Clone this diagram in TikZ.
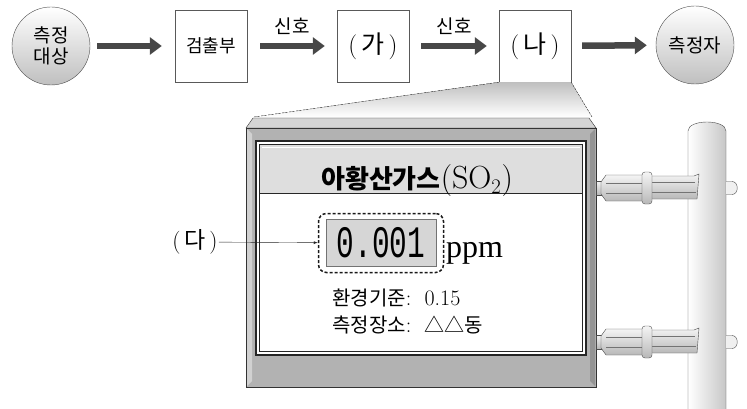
\documentclass[tikz,border=0pt]{standalone}
\usepackage{fontspec}
\usepackage{tikz}
\usetikzlibrary{positioning, arrows.meta}
\newfontfamily\kr{Noto Sans CJK KR}
\newfontfamily\lcd{Liberation Mono}
\newfontfamily\unitfont{Liberation Serif}

\begin{document}
\begin{tikzpicture}[x=1pt, y=-1pt, node distance = 12pt]

  \tikzstyle{ball}=[circle, draw=black!70, thin, minimum size=78pt, inner sep=0, top color=white, bottom color=black!25, align=center, font=\kr\fontsize{19}{22}\selectfont]
  \tikzstyle{block}=[draw=black!65, thin, fill=white, minimum width=72pt, minimum height=72pt, inner sep=0]
  \tikzstyle{flow}=[line width=6.5pt, draw=black!72, -{Triangle[length=12pt, width=17pt]}]
  \tikzstyle{sig}=[font=\kr\fontsize{19}{20}\selectfont, above=5pt, midway]
  \tikzstyle{part}=[draw=black!70, thin, top color=black!4, bottom color=black!28]

  \useasboundingbox (0,0) rectangle (747,409);

  % block diagram
  \node [ball] (obj) at (51, 46) {측정\\[-1pt]대상};
  \node [block, font=\kr\fontsize{18}{20}\selectfont] (det) at (211, 46) {검출부};
  \node [block, font=\fontsize{25}{27}\selectfont, right = 162pt of det.center, anchor=center] (ga) {(\,{\kr 가}\,)};
  \node [block, font=\fontsize{25}{27}\selectfont, right = 162pt of ga.center, anchor=center] (na) {(\,{\kr 나}\,)};
  \node [ball] (meas) at (695, 45) {측정자};

  \draw [flow, shorten <=7pt, shorten >=13pt] (obj) -- (det);
  \draw [flow, shorten <=13pt, shorten >=12pt] (det) -- node [sig] (s1) {신호} (ga);
  \draw [flow, shorten <=12pt, shorten >=12pt] (ga) -- node [sig] (s2) {신호} (na);
  \draw [flow, shorten <=11pt, shorten >=9pt] (na) -- (meas);

  % zoom of (na)
  \coordinate (zl) at (254, 117);
  \coordinate (zr) at (592, 117);
  \fill [top color=black!25, bottom color=white] (na.south west) -- (na.south east) -- (zr) -- (zl) -- cycle;
  \draw [black!75, dash pattern=on 2pt off 1.5pt] (na.south west) -- (zl);
  \draw [black!75, dash pattern=on 2pt off 1.5pt] (na.south east) -- (zr);

  % pole
  \draw [black!70, left color=white, right color=black!22] (688,409) -- (688,131) .. controls (688,119) and (726,119) .. (726,131) -- (726,409);
  \foreach \cy in {188, 342} {
    \draw [black!70, fill=black!6] (726,\cy-6.5) -- (732,\cy-6.5) .. controls (739,\cy-6.5) and (739,\cy+6.5) .. (732,\cy+6.5) -- (726,\cy+6.5);
  }

  % housing
  \draw [black!80, fill=black!30] (246,128) rectangle (596,387);
  \fill [black!18] (247,129) -- (252,134) -- (252,381) -- (247,386) -- cycle;
  \fill [black!42] (595,129) -- (590,134) -- (590,381) -- (595,386) -- cycle;
  \draw [black!80, fill=black!17] (246,128) -- (253,118) -- (589,118) -- (596,128) -- cycle;
  \draw [black!85, line width=1.1pt, fill=white] (256,141) rectangle (586,355);
  \draw [black!85, thin] (259.5,144.5) rectangle (582.5,351.5);
  \fill [black!13] (260,145) rectangle (582,193);
  \draw [white, thin] (262,147.5) -- (580,147.5);
  \draw [black!85, thin] (259.5,193) -- (582.5,193);

  \node [font=\fontsize{32}{34}\selectfont] (title) at (417,181) {{\kr\bfseries\fontsize{26}{28}\selectfont 아황산가스}(SO$_2$)};

  \node [draw=black!55, fill=black!16, minimum width=110pt, minimum height=47pt, inner sep=0] (lcd) at (381,243) {\lcd\fontsize{31}{31}\selectfont\scalebox{0.95}[1.45]{0.001}};
  \node [draw=black!90, line width=1.5pt, dash pattern=on 3pt off 2pt, rounded corners=8pt, minimum width=125pt, minimum height=59pt] (disp) at (lcd) {};
  \node [anchor=base west, inner sep=0, font=\unitfont\fontsize{32}{34}\selectfont] (unit) at (446,257) {ppm};

  \node [font=\fontsize{23}{25}\selectfont, inner sep=1pt] (da) at (195,242) {(\,{\kr 다}\,)};
  \draw [-latex, black!85, thin] (da) -- (disp);

  \node [anchor=west, inner sep=0, font=\fontsize{22}{24}\selectfont] (std) at (332,298) {{\kr\fontsize{20}{22}\selectfont 환경기준}:\ \ 0.15};
  \node [anchor=west, inner sep=0, font=\fontsize{22}{24}\selectfont] (loc) at (332,325) {{\kr\fontsize{20}{22}\selectfont 측정장소}:\ \ {\kr\fontsize{20}{22}\selectfont △△동}};

  % clamps
  \foreach \cy in {188, 342} {
    \draw [part] (596,\cy-7) rectangle (606,\cy+7);
    \draw [part] (601,\cy-6) -- (606,\cy-13) -- (644,\cy-13) -- (644,\cy+13) -- (606,\cy+13) -- (601,\cy+6) -- cycle;
    \draw [black!55, thin] (606,\cy-5) -- (644,\cy-5);
    \draw [black!55, thin] (606,\cy+5) -- (644,\cy+5);
    \draw [part] (650,\cy-12) -- (694,\cy-12) -- (699,\cy-14) -- (697,\cy+11) -- (650,\cy+11) -- cycle;
    \draw [black!55, thin] (650,\cy-6) -- (695,\cy-6);
    \draw [black!55, thin] (650,\cy+4) -- (696,\cy+4);
    \draw [part, rounded corners=3pt] (642,\cy-16) rectangle (652,\cy+16);
  }

\end{tikzpicture}
\end{document}
